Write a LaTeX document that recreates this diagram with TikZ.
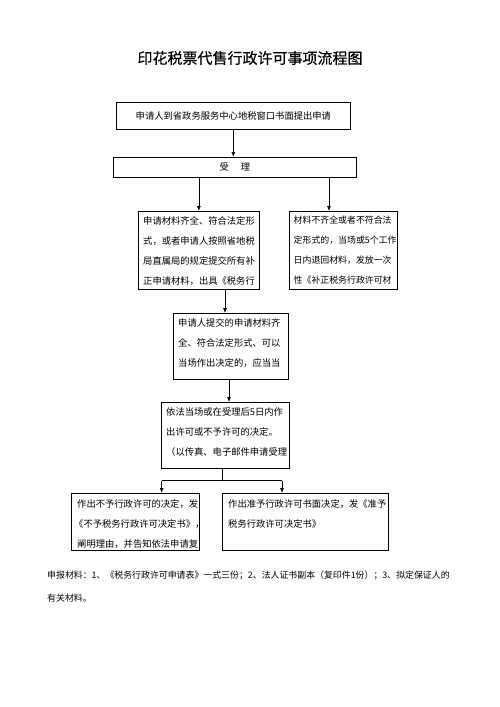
\documentclass[tikz,border=0pt]{standalone}
\usepackage{fontspec}
\setmainfont{Noto Sans CJK SC}
\newfontfamily\titlefont[FakeBold=0.4]{Noto Sans CJK SC}
\usetikzlibrary{arrows.meta,calc}
\begin{document}
\begin{tikzpicture}[x=1pt,y=-1pt,
  box/.style={draw, line width=0.7pt, inner sep=0pt, anchor=north west},
  arr/.style={-{Latex[length=5pt,width=4pt]}, line width=0.7pt},
  ln/.style={line width=0.7pt},
  txt/.style={anchor=north west, inner sep=0pt, align=left, font=\fontsize{9.3}{20}\selectfont},
  ctxt/.style={font=\fontsize{9.3}{12}\selectfont},
]
\useasboundingbox[fill=white] (0,0) rectangle (500,707);

\node[font=\titlefont\fontsize{15}{18}\selectfont] (title) at (250,58) {印花税票代售行政许可事项流程图};

\node[box, minimum width=234pt, minimum height=27pt, ctxt] (b1) at (116,102) {申请人到省政务服务中心地税窗口书面提出申请};
\node[box, minimum width=243pt, minimum height=20pt, ctxt] (b2) at (113,157) {受\hspace{12pt}理};
\node[box, minimum width=121pt, minimum height=78pt] (b3) at (138,211) {};
\node[box, minimum width=108pt, minimum height=78pt] (b4) at (289,211) {};
\node[box, minimum width=115pt, minimum height=66pt] (b5) at (173,313) {};
\node[box, minimum width=128pt, minimum height=66pt] (b6) at (161,402) {};
\node[box, minimum width=128pt, minimum height=57pt] (b7) at (71,493) {};
\node[box, minimum width=166pt, minimum height=57pt] (b8) at (222,493) {};

\begin{scope}
\clip (b3.north west) rectangle (b3.south east);
\node[txt] (x3) at ($(b3.north west)+(5,5)$) {申请材料齐全、符合法定形\\式，或者申请人按照省地税\\局直属局的规定提交所有补\\正申请材料，出具《税务行};
\end{scope}
\begin{scope}
\clip (b4.north west) rectangle (b4.south east);
\node[txt, font=\fontsize{8.9}{20}\selectfont] (x4) at ($(b4.north west)+(4.5,5.2)$) {材料不齐全或者不符合法\\定形式的，当场或5个工作\\日内退回材料，发放一次\\性《补正税务行政许可材};
\end{scope}
\begin{scope}
\clip (b5.north west) rectangle (b5.south east);
\node[txt] (x5) at ($(b5.north west)+(5,5)$) {申请人提交的申请材料齐\\全、符合法定形式、可以\\当场作出决定的，应当当};
\end{scope}
\begin{scope}
\clip (b6.north west) rectangle (b6.south east);
\node[txt] (x6) at ($(b6.north west)+(5,5)$) {依法当场或在受理后5日内作\\出许可或不予许可的决定。\\（以传真、电子邮件申请受理};
\end{scope}
\begin{scope}
\clip (b7.north west) rectangle (b7.south east);
\node[txt] (x7) at ($(b7.north west)+(6,6)$) {作出不予行政许可的决定，发\\\hspace{-3pt}《不予税务行政许可决定书》，\\阐明理由，并告知依法申请复};
\end{scope}
\begin{scope}
\clip (b8.north west) rectangle (b8.south east);
\node[txt] (x8) at ($(b8.north west)+(6,6)$) {作出准予行政许可书面决定，发《准予\\税务行政许可决定书》};
\end{scope}

\coordinate (t4) at ($(b4.north west)+(40,0)$);
\coordinate (t5) at ($(b5.north west)+(52,0)$);
\coordinate (t6) at ($(b6.north west)+(68,0)$);
\coordinate (s6) at ($(b6.south west)+(61,0)$);
\coordinate (j) at ($(s6)+(0,12)$);
\coordinate (t7) at ($(b7.north east)+(-38,0)$);
\coordinate (t8) at ($(b8.north west)+(60,0)$);

\draw[arr] (b1.south) -- (b1.south |- b2.north);
\draw[arr] (b3.north |- b2.south) -- (b3.north);
\draw[arr] (t4 |- b2.south) -- (t4);
\draw[arr] (t5 |- b3.south) -- (t5);
\draw[arr] (t6 |- b5.south) -- (t6);
\draw[ln] (s6) -- (j);
\draw[ln] (t7 |- j) -- (t8 |- j);
\draw[arr] (t7 |- j) -- (t7);
\draw[arr] (t8 |- j) -- (t8);

\node[anchor=west, inner sep=0pt, font=\fontsize{8.9}{12}\selectfont] (f1) at (47,575) {申报材料：1、《税务行政许可申请表》一式三份；2、法人证书副本（复印件1份）；3、拟定保证人的};
\node[anchor=west, inner sep=0pt, font=\fontsize{8.9}{12}\selectfont] (f2) at (47,598) {有关材料。};
\end{tikzpicture}
\end{document}
